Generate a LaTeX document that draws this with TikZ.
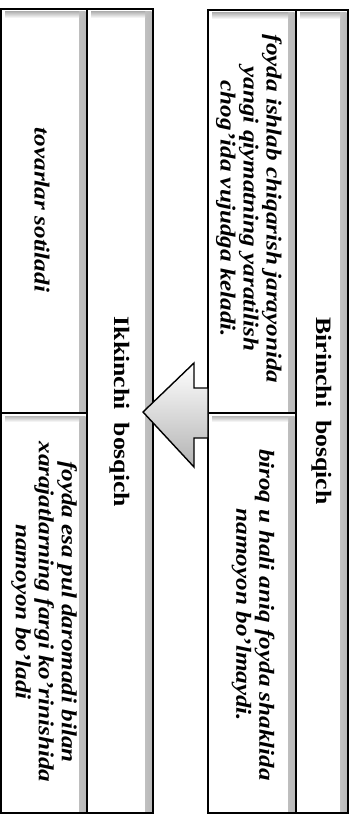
\documentclass[tikz,border=0pt]{standalone}
\usepackage{fontspec}
\setmainfont{Liberation Serif}[FakeStretch=1.17]
\begin{document}
\begin{tikzpicture}[x=1pt,y=-1pt,
  cellbox/.style={draw=black, line width=1.8pt, inner sep=0pt, outer sep=0pt, fill=white,
    path picture={
      \shade[left color=white, right color=black!28]
        ([xshift=-8pt,yshift=-3pt]path picture bounding box.north east) rectangle
        ([xshift=-1.5pt]path picture bounding box.south east);
      \shade[top color=black!28, bottom color=white]
        ([xshift=4pt,yshift=-3pt]path picture bounding box.north west) rectangle
        ([xshift=-8pt,yshift=-9pt]path picture bounding box.north east);
    }},
  celltext/.style={rotate=-90, font=\fontsize{21.5}{23}\selectfont\bfseries\itshape, align=center, inner sep=0pt},
  headtext/.style={rotate=-90, font=\fontsize{22}{24}\selectfont\bfseries, inner sep=0pt},
  arrowshape/.style={draw=black, line width=1.4pt, top color=white, bottom color=black!30, line join=miter}
]
\useasboundingbox (0,0) rectangle (356,816);
\fill[white] (0,0) rectangle (356,816);
% first stage group
\node[cellbox, minimum width=52pt, minimum height=803pt] (rh) at (322,411.5) {};
\node[cellbox, minimum width=88pt, minimum height=403pt] (rt) at (252,211.5) {};
\node[cellbox, minimum width=88pt, minimum height=400pt] (rb) at (252,613) {};
% second stage group
\node[cellbox, minimum width=66pt, minimum height=804pt] (lh) at (120,411) {};
\node[cellbox, minimum width=86pt, minimum height=404pt] (lt) at (44,211) {};
\node[cellbox, minimum width=86pt, minimum height=400pt] (lb) at (44,613) {};
% block arrow from first group to second
\coordinate (tip) at (143,412);
\shade[arrowshape] (tip) -- (194,363) -- (194,388) -- (rt.south west |- 0,388) -- (208,438) -- (194,438) -- (194,467) -- cycle;
% texts
\node[headtext] (h1) at (322,411) {Birinchi\ \ bosqich};
\node[headtext] (h2) at (120,412) {Ikkinchi\ \ bosqich};
\node[celltext] (t1) at (249,209) {foyda ishlab chiqarish jarayonida\\yangi qiymatning yaratilish\\chog'ida vujudga keladi.};
\node[celltext] (t2) at (253,615) {biroq u hali aniq foyda shaklida\\namoyon bo'lmaydi.};
\node[celltext] (t3) at (42,210) {tovarlar sotiladi};
\node[celltext] (t4) at (44,612) {foyda esa pul daromadi bilan\\xarajatlarning fargi ko'rinishida\\namoyon bo'ladi};
\end{tikzpicture}
\end{document}
